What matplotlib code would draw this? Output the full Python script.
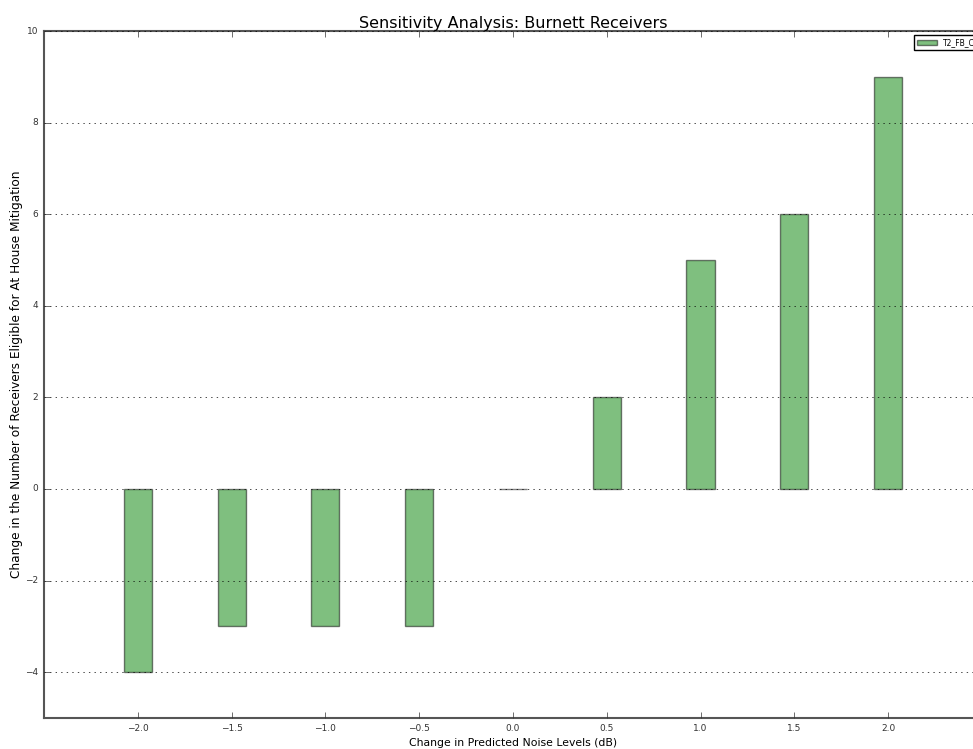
import numpy as np
import matplotlib.pyplot as plt

plt.style.use('classic')

# datos
cambios_db = [-2.0, -1.5, -1.0, -0.5, 0.0, 0.5, 1.0, 1.5, 2.0]
cambio_receptores = [-4, -3, -3, -3, 0, 2, 5, 6, 9]
etiqueta = 'T2_FB_Case1'

fig = plt.figure(figsize=(9.73, 7.49), dpi=100)
fig.patch.set_facecolor('white')
# the axes runs past the right edge of the figure, as in the original
ax = fig.add_axes([0.0452, 0.0414, 0.9640, 0.9172])

ax.bar(cambios_db, cambio_receptores, width=0.15, align='center',
       color='g', alpha=0.5, edgecolor='black', linewidth=1, label=etiqueta)

ax.set_xlim(-2.5, 2.5)
ax.set_ylim(-5, 10)
ax.set_xticks(cambios_db)
ax.set_xticklabels([f'{v:.1f}'.replace('-', '\u2212') for v in cambios_db])
ax.tick_params(labelsize=6.5, colors='#333333')
ax.yaxis.grid(True, linestyle=':', color='black')
ax.xaxis.grid(False)
for s in ax.spines.values():
    s.set_color('#555555')
    s.set_linewidth(1.5)

ax.set_title('Sensitivity Analysis: Burnett Receivers', fontsize=11.5, pad=2)
ax.set_xlabel('Change in Predicted Noise Levels (dB)', fontsize=7.8, labelpad=4)
ax.set_ylabel('Change in the Number of Receivers Eligible for At House Mitigation',
              fontsize=8.7, va='center')
ax.yaxis.set_label_coords(-27 / (0.9640 * 973), 0.5)
ax.legend(loc='upper left', bbox_to_anchor=(914 / 973, 1 - 35 / 749),
          bbox_transform=fig.transFigure, fontsize=5.5, framealpha=1,
          borderaxespad=0, handlelength=2.6)

fig.savefig('out.png', dpi=100, facecolor='white')
